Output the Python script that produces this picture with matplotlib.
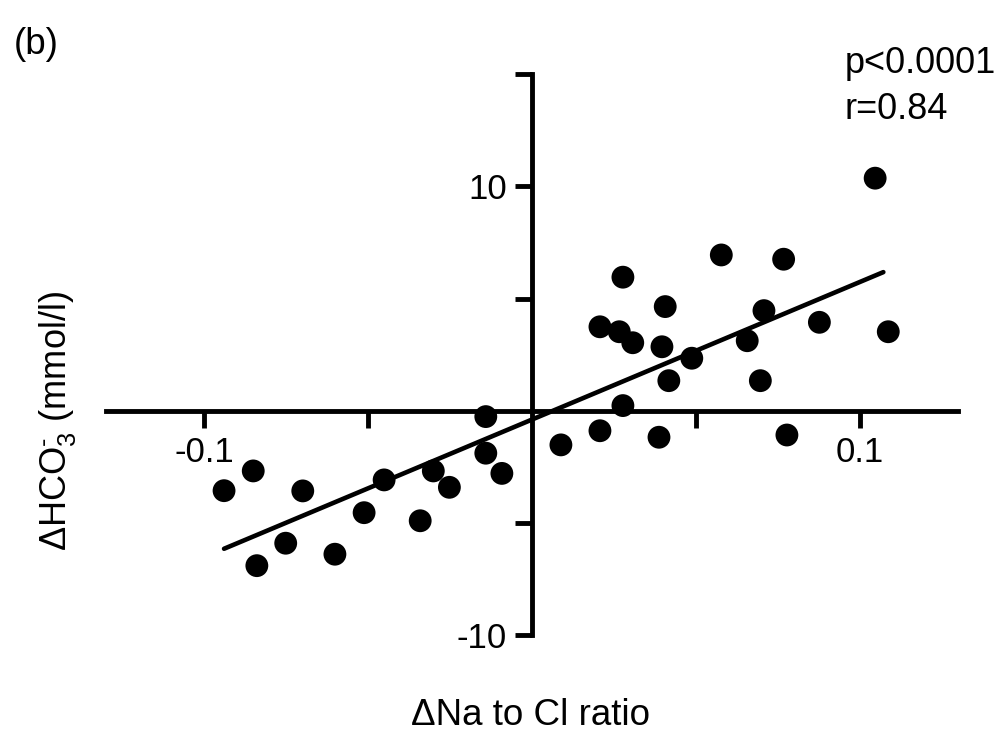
import matplotlib
matplotlib.use('Agg')
import matplotlib.pyplot as plt
import numpy as np

plt.rcParams['font.family'] = ['Liberation Sans', 'DejaVu Sans']
plt.rcParams['mathtext.default'] = 'regular'

# delta Na to Cl ratio vs delta HCO3-
na_cl = [-0.0939, -0.0850, -0.0839, -0.0751, -0.0699, -0.0601, -0.0512, -0.0451,
         -0.0341, -0.0301, -0.0252, -0.0141, -0.0141, -0.0092, 0.0088, 0.0207,
         0.0207, 0.0266, 0.0277, 0.0307, 0.0277, 0.0396, 0.0406, 0.0417,
         0.0387, 0.0487, 0.0577, 0.0656, 0.0696, 0.0707, 0.0767, 0.0777,
         0.0876, 0.1046, 0.1086]
hco3 = [-3.55, -2.67, -6.89, -5.89, -3.56, -6.38, -4.53, -3.07,
        -4.89, -2.67, -3.40, -0.25, -1.88, -2.78, -1.51, 3.75,
        -0.88, 3.53, 5.96, 3.04, 0.24, 2.86, 4.65, 1.35,
        -1.17, 2.35, 6.95, 3.13, 1.35, 4.47, 6.76, -1.07,
        3.95, 10.37, 3.53]

x_ticks = [-0.1, -0.05, 0.05, 0.1]
x_labels = ['-0.1', '', '', '0.1']
y_ticks = [-10, -5, 5, 10, 15]
y_labels = ['-10', '', '', '10', '']

x = np.array(na_cl)
y = np.array(hco3)

fig = plt.figure(figsize=(10.07, 7.35), dpi=100)
ax = fig.add_axes([0.1049, 0.1354, 0.8469, 0.7636])

ax.scatter(x, y, s=270, c='black', edgecolors='none', zorder=3)

# linear regression line over the data range
k, b = np.polyfit(x, y, 1)
xl = np.array([x.min(), x.max() - 0.0015])
ax.plot(xl, k * xl + b, color='black', lw=3.3, solid_capstyle='round', zorder=2)

ax.set_xlim(-0.13, 0.13)
ax.set_ylim(-10, 15)

ax.spines['left'].set_position(('data', 0))
ax.spines['bottom'].set_position(('data', 0))
ax.spines['top'].set_visible(False)
ax.spines['right'].set_visible(False)
for s in ['left', 'bottom']:
    ax.spines[s].set_linewidth(3.5)
    ax.spines[s].set_capstyle('projecting')

ax.set_xticks(x_ticks)
ax.set_xticklabels(x_labels)
ax.set_yticks(y_ticks)
ax.set_yticklabels(y_labels)
ax.tick_params(direction='out', length=12, width=3.5, labelsize=25, pad=6)

fig.text(0.014, 0.940, '(b)', fontsize=26.5, ha='left', va='center')
fig.text(0.839, 0.9007, 'p<0.0001', fontsize=26, ha='left', va='baseline')
fig.text(0.839, 0.838, 'r=0.84', fontsize=26, ha='left', va='baseline')
fig.text(0.527, 0.0136, 'ΔNa to Cl ratio', fontsize=26.5, ha='center', va='baseline')
fig.text(0.057, 0.427, 'ΔHCO$_3^{‐}$ (mmol/l)', fontsize=26, ha='center', va='center',
         rotation=90)

fig.savefig('out.png', dpi=100)
